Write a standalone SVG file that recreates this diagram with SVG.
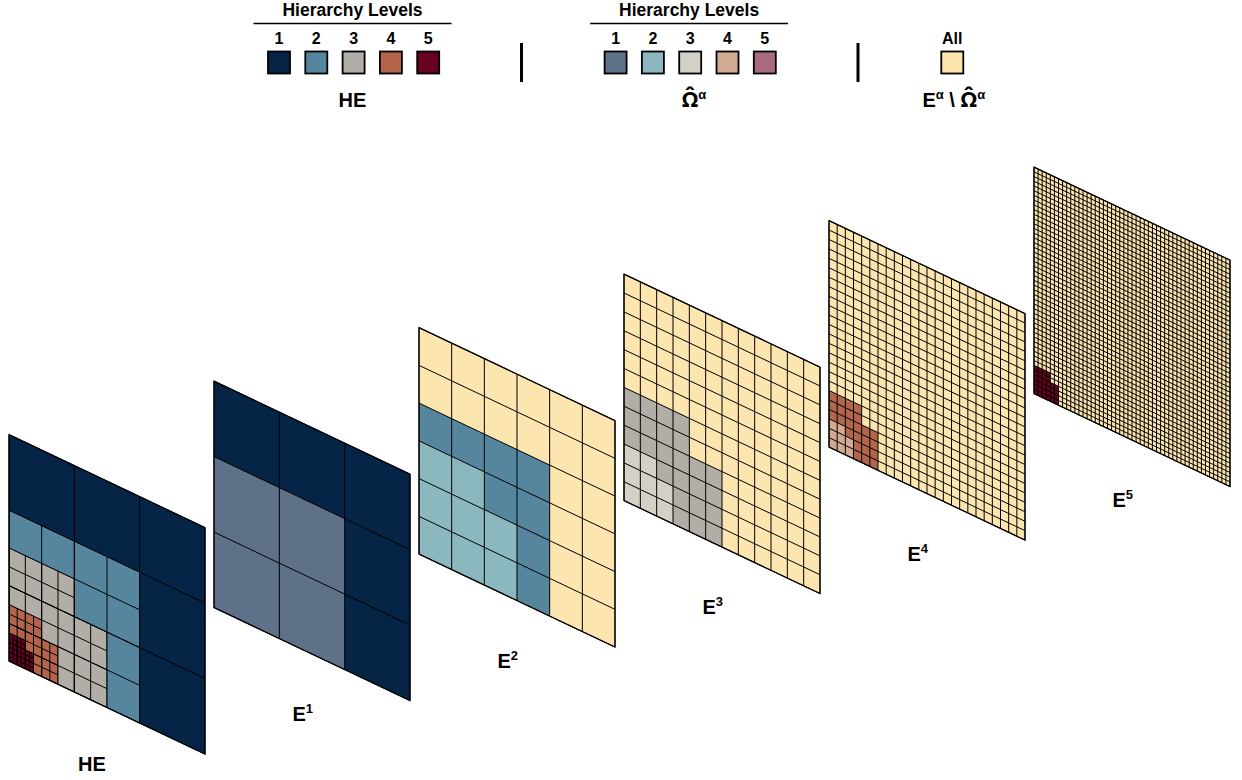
<svg xmlns="http://www.w3.org/2000/svg" xmlns:xlink="http://www.w3.org/1999/xlink" width="1242" height="780" viewBox="0 0 1242 780">
<style>
.t{font-family:"Liberation Sans",Arial,sans-serif;font-weight:bold;fill:#000}
.om{font-family:"Noto Sans","DejaVu Sans",sans-serif;font-size:22px}
.ln{fill:none;stroke:#000;stroke-width:1;vector-effect:non-scaling-stroke}
.ol{fill:none;stroke:#000;stroke-width:1.2;vector-effect:non-scaling-stroke}
.sw{stroke:#000;stroke-width:1.8}
.h1{fill:#052446}.h2{fill:#55869e}.h3{fill:#b1aea7}.h4{fill:#b3654b}.h5{fill:#680020}
.o1{fill:#5e7189}.o2{fill:#8ab8be}.o3{fill:#d3d0c5}.o4{fill:#d2aa91}.o5{fill:#a96a7d}
.al{fill:#fde5b0}
</style>
<defs>
<path id="R" d="M0 0H48V48H0Z"/>
<path id="O1" d="M0 16H32V48H0Z"/>
<path id="O2" d="M0 24H16V32H24V48H0Z"/>
<path id="O3" d="M0 36H8V40H12V48H0Z"/>
<path id="O4" d="M0 42H4V44H6V48H0Z"/>
<clipPath id="c1"><path d="M0 16H32V48H0Z"/></clipPath>
<clipPath id="c2"><path d="M0 24H16V32H24V48H0Z"/></clipPath>
<clipPath id="c3"><path d="M0 36H8V40H12V48H0Z"/></clipPath>
<clipPath id="c4"><path d="M0 42H4V44H6V48H0Z"/></clipPath>
<path id="g3" class="ln" d="M0 0V48M16 0V48M32 0V48M48 0V48M0 0H48M0 16H48M0 32H48M0 48H48"/>
<path id="g6" class="ln" d="M0 0V48M8 0V48M16 0V48M24 0V48M32 0V48M40 0V48M48 0V48M0 0H48M0 8H48M0 16H48M0 24H48M0 32H48M0 40H48M0 48H48"/>
<path id="g12" class="ln" d="M0 0V48M4 0V48M8 0V48M12 0V48M16 0V48M20 0V48M24 0V48M28 0V48M32 0V48M36 0V48M40 0V48M44 0V48M48 0V48M0 0H48M0 4H48M0 8H48M0 12H48M0 16H48M0 20H48M0 24H48M0 28H48M0 32H48M0 36H48M0 40H48M0 44H48M0 48H48"/>
<path id="g24" class="ln" d="M0 0V48M2 0V48M4 0V48M6 0V48M8 0V48M10 0V48M12 0V48M14 0V48M16 0V48M18 0V48M20 0V48M22 0V48M24 0V48M26 0V48M28 0V48M30 0V48M32 0V48M34 0V48M36 0V48M38 0V48M40 0V48M42 0V48M44 0V48M46 0V48M48 0V48M0 0H48M0 2H48M0 4H48M0 6H48M0 8H48M0 10H48M0 12H48M0 14H48M0 16H48M0 18H48M0 20H48M0 22H48M0 24H48M0 26H48M0 28H48M0 30H48M0 32H48M0 34H48M0 36H48M0 38H48M0 40H48M0 42H48M0 44H48M0 46H48M0 48H48"/>
<path id="g48" class="ln" d="M0 0V48M1 0V48M2 0V48M3 0V48M4 0V48M5 0V48M6 0V48M7 0V48M8 0V48M9 0V48M10 0V48M11 0V48M12 0V48M13 0V48M14 0V48M15 0V48M16 0V48M17 0V48M18 0V48M19 0V48M20 0V48M21 0V48M22 0V48M23 0V48M24 0V48M25 0V48M26 0V48M27 0V48M28 0V48M29 0V48M30 0V48M31 0V48M32 0V48M33 0V48M34 0V48M35 0V48M36 0V48M37 0V48M38 0V48M39 0V48M40 0V48M41 0V48M42 0V48M43 0V48M44 0V48M45 0V48M46 0V48M47 0V48M48 0V48M0 0H48M0 1H48M0 2H48M0 3H48M0 4H48M0 5H48M0 6H48M0 7H48M0 8H48M0 9H48M0 10H48M0 11H48M0 12H48M0 13H48M0 14H48M0 15H48M0 16H48M0 17H48M0 18H48M0 19H48M0 20H48M0 21H48M0 22H48M0 23H48M0 24H48M0 25H48M0 26H48M0 27H48M0 28H48M0 29H48M0 30H48M0 31H48M0 32H48M0 33H48M0 34H48M0 35H48M0 36H48M0 37H48M0 38H48M0 39H48M0 40H48M0 41H48M0 42H48M0 43H48M0 44H48M0 45H48M0 46H48M0 47H48M0 48H48"/>
</defs>
<rect width="1242" height="780" fill="#fff"/>

<g id="legend-he">
<text class="t" x="352.5" y="16" font-size="17.5" text-anchor="middle">Hierarchy Levels</text>
<line x1="253.5" y1="23.5" x2="451.5" y2="23.5" stroke="#000" stroke-width="1.3"/>
<g class="t" font-size="16" text-anchor="middle">
<text x="279" y="43.5">1</text><text x="316.3" y="43.5">2</text><text x="353.6" y="43.5">3</text><text x="390.9" y="43.5">4</text><text x="428.2" y="43.5">5</text>
</g>
<rect class="sw h1" x="268" y="51.5" width="22" height="22"/>
<rect class="sw h2" x="305.3" y="51.5" width="22" height="22"/>
<rect class="sw h3" x="342.6" y="51.5" width="22" height="22"/>
<rect class="sw h4" x="379.9" y="51.5" width="22" height="22"/>
<rect class="sw h5" x="417.2" y="51.5" width="22" height="22"/>
<text class="t" x="352.5" y="106.5" font-size="20" text-anchor="middle">HE</text>
</g>
<line x1="521.5" y1="43" x2="521.5" y2="82" stroke="#000" stroke-width="3"/>
<g id="legend-omega">
<text class="t" x="689.1" y="16" font-size="17.5" text-anchor="middle">Hierarchy Levels</text>
<line x1="590.1" y1="23.5" x2="788.1" y2="23.5" stroke="#000" stroke-width="1.3"/>
<g class="t" font-size="16" text-anchor="middle">
<text x="615.6" y="43.5">1</text><text x="652.9" y="43.5">2</text><text x="690.2" y="43.5">3</text><text x="727.5" y="43.5">4</text><text x="764.8" y="43.5">5</text>
</g>
<rect class="sw o1" x="604.6" y="51.5" width="22" height="22"/>
<rect class="sw o2" x="641.9" y="51.5" width="22" height="22"/>
<rect class="sw o3" x="679.2" y="51.5" width="22" height="22"/>
<rect class="sw o4" x="716.5" y="51.5" width="22" height="22"/>
<rect class="sw o5" x="753.8" y="51.5" width="22" height="22"/>
<text class="t" x="694" y="106.5" font-size="20" text-anchor="middle"><tspan class="om">Ω̂</tspan><tspan font-size="13" dy="-8">α</tspan></text>
</g>
<line x1="858" y1="43" x2="858" y2="82" stroke="#000" stroke-width="3"/>
<g id="legend-all">
<text class="t" x="952.3" y="43.5" font-size="16" text-anchor="middle">All</text>
<rect class="sw al" x="941.3" y="51.5" width="22" height="22"/>
<text class="t" x="953.8" y="106.5" font-size="20" text-anchor="middle">E<tspan font-size="13" dy="-8">α</tspan><tspan dy="8"> \ </tspan><tspan class="om">Ω̂</tspan><tspan font-size="13" dy="-8">α</tspan></text>
</g>

<g id="panel-HE">
<g transform="matrix(4.083333 1.9375 0 4.71875 9 434.6)">
<use xlink:href="#R" class="h1"/>
<use xlink:href="#O1" class="h2"/>
<use xlink:href="#O2" class="h3"/>
<use xlink:href="#O3" class="h4"/>
<use xlink:href="#O4" class="h5"/>
<use xlink:href="#g3"/>
<use xlink:href="#g6" clip-path="url(#c1)"/>
<use xlink:href="#g12" clip-path="url(#c2)"/>
<use xlink:href="#g24" clip-path="url(#c3)"/>
<use xlink:href="#g48" clip-path="url(#c4)"/>
<path class="ol" d="M0 0H48V48H0Z"/>
</g>
<text class="t" x="92" y="771" font-size="20" text-anchor="middle">HE</text>
</g>

<g id="panel-E1">
<g transform="matrix(4.083333 1.9375 0 4.71875 214 381.1)">
<use xlink:href="#R" class="h1"/>
<use xlink:href="#O1" class="o1"/>
<use xlink:href="#g3"/>
<path class="ol" d="M0 0H48V48H0Z"/>
</g>
<text class="t" x="292.5" y="721" font-size="20">E<tspan font-size="13" dy="-8">1</tspan></text>
</g>

<g id="panel-E2">
<g transform="matrix(4.083333 1.9375 0 4.71875 419 327.6)">
<use xlink:href="#R" class="al"/>
<use xlink:href="#O1" class="h2"/>
<use xlink:href="#O2" class="o2"/>
<use xlink:href="#g6"/>
<path class="ol" d="M0 0H48V48H0Z"/>
</g>
<text class="t" x="497.5" y="667.5" font-size="20">E<tspan font-size="13" dy="-8">2</tspan></text>
</g>

<g id="panel-E3">
<g transform="matrix(4.083333 1.9375 0 4.71875 624 274.1)">
<use xlink:href="#R" class="al"/>
<use xlink:href="#O2" class="h3"/>
<use xlink:href="#O3" class="o3"/>
<use xlink:href="#g12"/>
<path class="ol" d="M0 0H48V48H0Z"/>
</g>
<text class="t" x="702.5" y="614" font-size="20">E<tspan font-size="13" dy="-8">3</tspan></text>
</g>

<g id="panel-E4">
<g transform="matrix(4.083333 1.9375 0 4.71875 829 220.6)">
<use xlink:href="#R" class="al"/>
<use xlink:href="#O3" class="h4"/>
<use xlink:href="#O4" class="o4"/>
<use xlink:href="#g24"/>
<path class="ol" d="M0 0H48V48H0Z"/>
</g>
<text class="t" x="907.5" y="560.5" font-size="20">E<tspan font-size="13" dy="-8">4</tspan></text>
</g>

<g id="panel-E5">
<g transform="matrix(4.083333 1.9375 0 4.71875 1034 167.1)">
<use xlink:href="#R" class="al"/>
<use xlink:href="#O4" class="h5"/>
<use xlink:href="#g48"/>
<path class="ol" d="M0 0H48V48H0Z"/>
</g>
<text class="t" x="1112.5" y="507" font-size="20">E<tspan font-size="13" dy="-8">5</tspan></text>
</g>
</svg>
